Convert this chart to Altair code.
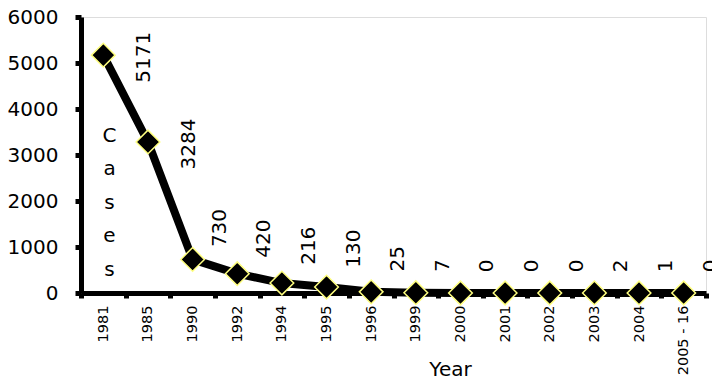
import altair as alt
import pandas as pd

# Reported cases by year
years = ["1981", "1985", "1990", "1992", "1994", "1995", "1996",
         "1999", "2000", "2001", "2002", "2003", "2004", "2005 - 16"]
cases = [5171, 3284, 730, 420, 216, 130, 25, 7, 0, 0, 0, 2, 1, 0]
y_ticks = [0, 1000, 2000, 3000, 4000, 5000, 6000]

df = pd.DataFrame({"year": years, "cases": cases})

FONT = "DejaVu Sans"

x_enc = alt.X(
    "year:N",
    sort=years,
    scale=alt.Scale(type="band", paddingInner=0, paddingOuter=0),
    axis=alt.Axis(
        title="Year",
        titleFont=FONT,
        titleFontSize=20,
        titleFontWeight="normal",
        titleColor="black",
        titleX=369,
        titleY=76,
        titleBaseline="middle",
        titleAlign="center",
        labelAngle=270,
        labelAlign="right",
        labelBaseline="middle",
        labelFont=FONT,
        labelFontSize=14.5,
        labelColor="black",
        labelPadding=7,
        tickBand="extent",
        tickSize=5,
        tickWidth=5,
        tickColor="black",
        domainWidth=5,
        domainColor="black",
        grid=False,
    ),
)

y_scale = alt.Scale(domain=[0, 6000], nice=False, zero=True)
y_axis = alt.Axis(
    values=y_ticks,
    format="d",
    title=["C", "a", "s", "e", "s"],
    titleFont=FONT,
    titleFontSize=20,
    titleFontWeight="normal",
    titleColor="black",
    titleAngle=0,
    titleAlign="center",
    titleBaseline="alphabetic",
    titleLineHeight=33.5,
    titleX=28,
    titleY=124,
    labelFont=FONT,
    labelFontSize=20,
    labelColor="black",
    labelPadding=17,
    tickSize=6,
    tickWidth=5,
    tickColor="black",
    domainWidth=5,
    domainColor="black",
    grid=False,
)

base = alt.Chart(df)

line = base.mark_line(color="black", strokeWidth=8).encode(
    x=x_enc,
    y=alt.Y("cases:Q", scale=y_scale, axis=y_axis),
)

points = base.mark_point(
    shape="diamond", filled=True, size=560,
    fill="black", stroke="#ffff80", strokeWidth=1.5, opacity=1,
).encode(
    x=alt.X("year:N", sort=years),
    y=alt.Y("cases:Q"),
)

# Value labels, rotated, set to the right of each point and lifted clear of the line
label_base = base.transform_calculate(
    label_pos="max(datum.cases - 600, min(450 + 0.75 * datum.cases, 1000))"
)
label_enc = dict(
    x=alt.X("year:N", sort=years),
    y=alt.Y("label_pos:Q"),
    text=alt.Text("cases:Q", format="d"),
)
label_style = dict(angle=270, align="left", baseline="middle",
                   font=FONT, fontSize=20, color="black")

labels_high = label_base.transform_filter("datum.cases >= 1000").mark_text(
    dy=41, **label_style
).encode(**label_enc)

labels_low = label_base.transform_filter("datum.cases < 1000").mark_text(
    dy=27, **label_style
).encode(**label_enc)

chart = (
    alt.layer(line, points, labels_high, labels_low)
    .properties(
        width=625,
        height=276,
        autosize=alt.AutoSizeParams(type="none"),
        padding={"left": 81, "top": 17, "right": 6, "bottom": 90},
    )
    .configure_view(stroke=None)
    .configure(background="white")
)

chart.save("out.html", embed_options={"renderer": "svg", "actions": False})
